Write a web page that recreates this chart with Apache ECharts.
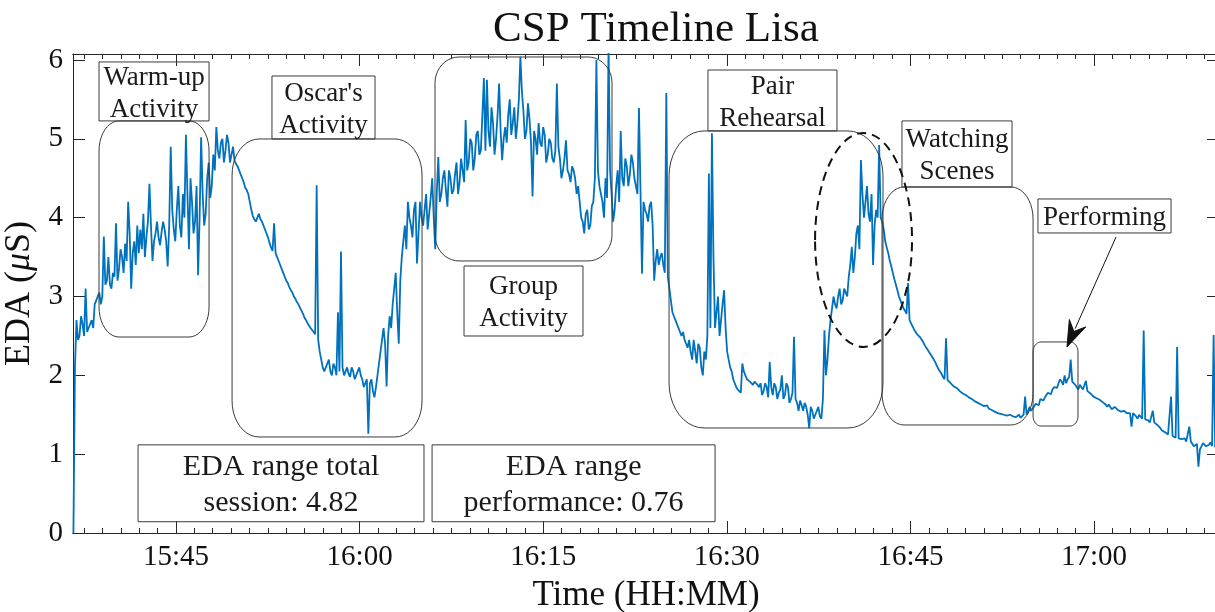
<!DOCTYPE html>
<html><head><meta charset="utf-8">
<script src="https://cdn.jsdelivr.net/npm/echarts@6/dist/echarts.min.js"></script>
<style>html,body{margin:0;padding:0;background:#fff}#c{width:1215px;height:612px}</style>
</head><body><div id="c"></div>
<script>
// ---- data (time in minutes after 15:00) ----
const tStart = 36.62;
const tStep = 0.1242;
const edaValues = [
 0,2.1, 2.7,2.45, 2.5,2.75, 2.65,2.5, 3.1,2.55, 2.6,2.65, 2.7,2.6, 2.9,2.95, 3.0,3.05, 2.9,3.0, 3.76,3.15, 3.2,3.5, 3.15,3.1, 3.3,3.25, 3.93,3.2, 3.35,3.6, 3.5,3.3, 3.67,3.45, 4.2,3.8, 3.1,3.55,
 3.7,3.4, 3.9,3.55, 3.85,3.6, 4.05,3.5, 3.75,3.95, 4.43,3.9, 3.45,3.7, 3.8,3.95, 3.75,3.65, 3.82,3.95, 3.85,3.7, 3.38,3.9, 4.9,4.1, 3.85,3.7, 4.1,4.4, 3.9,3.75, 4.3,4.0, 5.05,4.3, 3.6,4.5, 4.2,3.8,
 3.95,4.4, 3.27,4.0, 5.02,4.3, 3.9,4.05, 4.5,4.7, 4.25,4.4, 4.8,4.6, 5.15,4.85, 4.75,4.95, 5.0,4.7, 4.85,5.05, 4.95,4.7, 4.8,4.9, 4.72,4.68, 4.65,4.6, 4.55,4.5, 4.45,4.38, 4.35,4.3, 4.2,4.1, 4.02,3.98,
 3.95,4.0, 4.05,3.98, 3.95,3.9, 3.85,3.8, 3.75,3.68, 3.62,3.58, 3.93,3.55, 3.5,3.45, 3.4,3.35, 3.3,3.25, 3.2,3.17, 3.12,3.08, 3.05,3.0, 2.97,2.93, 2.9,2.86, 2.82,2.78, 2.73,2.7, 2.66,2.63, 2.6,2.58, 2.55,2.52,
 4.41,2.45, 2.3,2.2, 2.1,2.05, 2.05,2.15, 2.2,2.05, 2.0,2.15, 2.1,2.0, 2.8,2.05, 3.57,2.1, 2.0,2.05, 2.1,2.02, 1.98,2.1, 2.05,1.95, 2.0,2.05, 2.1,2.0, 1.95,1.85, 1.9,1.95, 1.26,1.9, 1.95,1.8, 1.72,1.85,
 2.0,2.15, 2.3,2.45, 2.6,2.4, 1.86,2.5, 2.75,2.6, 2.9,3.1, 3.3,2.8, 2.4,3.2, 3.5,3.7, 3.9,3.6, 4.2,4.0, 3.9,3.75, 4.1,4.2, 3.42,3.8, 4.2,4.0, 3.9,4.1, 4.3,3.85, 4.05,4.25, 4.5,4.0, 3.6,4.3,
 4.77,4.2, 4.3,4.5, 4.6,4.35, 4.14,4.6, 4.5,4.3, 4.35,4.55, 4.7,4.3, 4.45,4.75, 4.6,4.45, 5.24,4.6, 4.7,5.0, 4.95,4.6, 4.75,5.05, 5.1,4.8, 4.85,5.3, 5.77,4.85, 5.75,5.1, 4.9,5.4, 5.2,4.8, 5.0,5.3,
 5.7,5.1, 4.73,5.0, 5.15,4.95, 5.3,5.5, 5.05,5.2, 5.4,5.0, 5.2,5.5, 6.04,5.6, 5.35,5.0, 5.1,5.45, 5.25,4.95, 4.27,5.1, 5.0,4.8, 5.2,4.95, 4.9,5.15, 5.05,4.7, 4.8,5.0, 4.95,4.75, 4.7,4.85, 5.7,4.9,
 4.75,4.5, 4.6,4.75, 4.98,4.6, 4.55,4.45, 4.65,4.6, 4.5,4.3, 4.4,4.2, 4.0,3.95, 3.8,4.05, 4.1,3.85, 3.9,4.15, 4.2,4.5, 6.0,4.6, 4.4,4.3, 4.2,4.0, 4.5,4.25, 6.2,4.6, 4.3,3.95, 4.1,4.4, 4.6,4.2,
 5.1,4.5, 4.4,4.75, 4.65,4.4, 4.55,4.8, 4.7,4.5, 4.4,4.3, 5.39,4.35, 3.29,4.2, 4.1,4.05, 3.95,4.15, 4.2,3.9, 3.2,3.45, 3.6,3.4, 3.5,3.55, 3.4,3.3, 5.58,3.25, 3.1,2.95, 2.8,2.75, 2.7,2.65, 2.6,2.55,
 2.5,2.55, 2.45,2.4, 2.35,2.45, 2.3,2.2, 2.45,2.3, 2.15,2.4, 2.35,2.1, 2.0,2.3, 2.2,2.5, 4.56,2.6, 5.07,3.5, 2.6,2.8, 3.0,2.5, 2.7,2.9, 3.08,2.6, 2.3,2.2, 2.1,2.05, 1.95,1.9, 1.85,1.82, 1.8,1.78,
 2.15,2.05, 2.0,1.95, 1.95,1.92, 1.9,1.88, 1.92,1.9, 1.88,1.85, 1.9,1.75, 1.8,1.9, 1.85,1.72, 2.17,1.85, 1.75,1.9, 1.85,1.7, 1.78,1.82, 2.0,1.7, 1.75,1.9, 1.85,1.65, 1.7,1.78, 2.49,1.7, 1.65,1.55, 1.68,1.62,
 1.55,1.65, 1.6,1.5, 1.33,1.6, 1.55,1.45, 1.5,1.55, 1.6,1.48, 1.45,1.7, 2.57,2.0, 2.2,2.5, 2.7,2.85, 3.0,2.9, 2.85,3.0, 3.1,2.9, 2.95,3.1, 3.05,3.0, 3.25,3.4, 3.63,3.3, 3.5,3.8, 3.9,3.6, 4.73,4.3,
 4.0,4.2, 4.4,4.05, 3.95,4.3, 3.4,3.9, 4.1,4.0, 4.92,4.0, 3.95,3.85, 3.7,3.62, 3.55,3.45, 3.38,3.3, 3.22,3.15, 3.08,3.0, 2.95,2.9, 2.85,2.82, 2.78,3.17, 2.7,2.66, 2.62,2.58, 2.55,2.52, 2.5,2.48, 2.45,2.42,
 2.38,2.35, 2.32,2.29, 2.26,2.23, 2.2,2.16, 2.12,2.08, 2.05,2.02, 1.98,1.95, 2.47,1.94, 1.92,1.9, 1.88,1.86, 1.85,1.84, 1.82,1.8, 1.79,1.77, 1.76,1.75, 1.73,1.72, 1.71,1.7, 1.68,1.67, 1.66,1.65, 1.64,1.63, 1.62,1.61,
 1.6,1.62, 1.58,1.57, 1.56,1.55, 1.54,1.53, 1.52,1.53, 1.51,1.5, 1.5,1.52, 1.49,1.48, 1.5,1.5, 1.48,1.47, 1.47,1.49, 1.5,1.46, 1.48,1.5, 1.73,1.5, 1.52,1.6, 1.55,1.58, 1.6,1.64, 1.65,1.62, 1.7,1.72, 1.68,1.72,
 1.75,1.78, 1.8,1.76, 1.82,1.85, 1.86,1.84, 1.9,1.95, 1.92,1.88, 2.0,1.9, 1.95,1.98, 2.2,1.92, 1.9,1.88, 1.85,1.82, 1.88,1.85, 1.82,1.8, 1.93,1.8, 1.78,1.77, 1.75,1.73, 1.72,1.71, 1.7,1.69, 1.68,1.66, 1.65,1.63,
 1.6,1.63, 1.62,1.57, 1.58,1.6, 1.6,1.56, 1.55,1.54, 1.56,1.55, 1.53,1.52, 1.54,1.52, 1.35,1.52, 1.5,1.48, 1.45,1.5, 1.48,1.45, 2.57,1.44, 1.42,1.43, 1.4,1.42, 1.55,1.4, 1.38,1.37, 1.35,1.33, 1.3,1.29, 1.28,1.27,
 1.25,1.24, 1.73,1.23, 1.22,1.21, 2.36,1.2, 1.2,1.19, 1.18,1.2, 1.16,1.15, 1.35,1.16, 1.14,1.1, 1.12,1.13, 0.84,1.06, 1.1,1.14, 1.12,1.1, 1.08,1.12, 1.15,1.1, 2.51,1.1, 1.05
];
const xTickMinutes = [45, 60, 75, 90, 105, 120];
const yTickValues = [0, 1, 2, 3, 4, 5, 6];
const titleText = 'CSP Timeline Lisa';
const xAxisName = 'Time (HH:MM)';
const yAxisName = 'EDA ({i|μ}S)';

// annotations in data coordinates [t1, vTop, t2, vBottom]
const labelTexts = ['Warm-up\nActivity', "Oscar's\nActivity", 'Group\nActivity', 'Pair\nRehearsal',
  'Watching\nScenes', 'Performing', 'EDA range total\nsession: 4.82', 'EDA range\nperformance: 0.76'];
const labelBoxes = [[38.71, 5.975, 47.70, 5.227], [52.84, 5.797, 61.26, 4.998], [68.53, 3.387, 78.25, 2.499],
  [88.46, 5.873, 99.00, 5.100], [104.31, 5.227, 113.30, 4.389], [115.42, 4.237, 126.29, 3.806],
  [41.90, 1.118, 65.26, 0.143], [65.92, 1.118, 89.04, 0.143]];
const labelFontSizes = [27, 27, 27, 27, 27, 27, 30, 30];
const regionBoxes = [[38.71, 5.227, 47.70, 2.486], [49.58, 4.998, 65.10, 1.218], [66.16, 6.038, 80.62, 3.451],
  [85.28, 5.100, 102.76, 1.332], [102.68, 4.389, 115.02, 1.370], [115.02, 2.423, 118.69, 1.357]];
const regionCorners = [[20, 30], [27, 36], [24, 26], [35, 45], [22, 32], [8, 10]];
const ellipseCenter = [101.17, 3.717];
const ellipseRadius = [3.96, 1.357];
const arrowFrom = [121.80, 3.755];
const arrowTo = [117.79, 2.360];

// ---- chart ----
const FONT = '"Liberation Serif", "Times New Roman", serif';
const AX = '#262626';
const xMin = 36.585, xMax = 130.21, yMax = 6.076;
const minorTicks = [];
for (let m = 37.5; m < xMax; m += 1.5) minorTicks.push(m);

function fmt(m) {
  const h = 15 + Math.floor(m / 60);
  const mm = Math.round(m % 60);
  return h + ':' + String(mm).padStart(2, '0');
}
const seriesData = edaValues.map((v, i) => [tStart + i * tStep, v]);

function xAx(position, ticks, len, extra) {
  return Object.assign({
    type: 'value', position: position, min: xMin, max: xMax,
    axisLine: { show: true, onZero: false, lineStyle: { color: AX, width: 1 } },
    axisTick: { show: true, inside: true, length: len, customValues: ticks, lineStyle: { color: AX, width: 1 } },
    axisLabel: { show: false }, splitLine: { show: false }
  }, extra || {});
}

const chart = echarts.init(document.getElementById('c'), null, { renderer: 'canvas' });
const option = {
  animation: false,
  backgroundColor: '#ffffff',
  title: {
    text: titleText, left: 651, top: 3, textAlign: 'center',
    textStyle: { fontFamily: FONT, fontSize: 43, fontWeight: 'normal', color: '#111' }
  },
  grid: { left: 73, top: 54, width: 1146, height: 479, outerBoundsMode: 'none', containLabel: false },
  xAxis: [
    xAx('bottom', xTickMinutes, 12, {
      name: xAxisName, nameLocation: 'middle', nameGap: 45,
      nameTextStyle: { fontFamily: FONT, fontSize: 35, color: '#111' },
      axisLabel: { show: true, customValues: xTickMinutes, formatter: fmt, fontFamily: FONT, fontSize: 29, color: '#111', margin: 10 }
    }),
    xAx('bottom', minorTicks, 5),
    xAx('top', xTickMinutes, 12),
    xAx('top', minorTicks, 5)
  ],
  yAxis: [
    {
      type: 'value', position: 'left', min: 0, max: yMax,
      name: yAxisName, nameLocation: 'middle', nameGap: 31, nameRotate: 90,
      nameTextStyle: { fontFamily: FONT, fontSize: 36, color: '#111',
        rich: { i: { fontFamily: FONT, fontSize: 36, fontStyle: 'italic', color: '#111' } } },
      axisLine: { show: true, onZero: false, lineStyle: { color: AX, width: 1 } },
      axisTick: { show: true, inside: true, length: 12, customValues: yTickValues, lineStyle: { color: AX } },
      axisLabel: { customValues: yTickValues, fontFamily: FONT, fontSize: 29, color: '#111', margin: 10 },
      splitLine: { show: false }
    },
    {
      type: 'value', position: 'right', min: 0, max: yMax,
      axisLine: { show: true, onZero: false, lineStyle: { color: AX, width: 1 } },
      axisTick: { show: true, inside: true, length: 12, customValues: yTickValues, lineStyle: { color: AX } },
      axisLabel: { show: false }, splitLine: { show: false }
    }
  ],
  series: [{
    type: 'line', data: seriesData, xAxisIndex: 0, yAxisIndex: 0,
    showSymbol: false, symbol: 'none', clip: true, silent: true,
    lineStyle: { color: '#0072BD', width: 1.8 }
  }]
};
chart.setOption(option);

// ---- annotations placed through the axes ----
const P = (t, v) => chart.convertToPixel({ xAxisIndex: 0, yAxisIndex: 0 }, [t, v]);
const graphics = [];
const EDGE = '#3a3a3a';

function roundedPoints(x1, y1, x2, y2, rx, ry) {
  const pts = [];
  const n = 10;
  const corners = [
    [x2 - rx, y1 + ry, -Math.PI / 2, 0],
    [x2 - rx, y2 - ry, 0, Math.PI / 2],
    [x1 + rx, y2 - ry, Math.PI / 2, Math.PI],
    [x1 + rx, y1 + ry, Math.PI, 1.5 * Math.PI]
  ];
  corners.forEach(c => {
    for (let k = 0; k <= n; k++) {
      const a = c[2] + (c[3] - c[2]) * k / n;
      pts.push([c[0] + rx * Math.cos(a), c[1] + ry * Math.sin(a)]);
    }
  });
  return pts;
}

regionBoxes.forEach((b, i) => {
  const a = P(b[0], b[1]), c = P(b[2], b[3]);
  graphics.push({
    type: 'polygon', silent: true, z: 10,
    shape: { points: roundedPoints(a[0], a[1], c[0], c[1], regionCorners[i][0], regionCorners[i][1]) },
    style: { fill: 'none', stroke: EDGE, lineWidth: 1 }
  });
});

labelBoxes.forEach((b, i) => {
  const a = P(b[0], b[1]), c = P(b[2], b[3]);
  graphics.push({
    type: 'rect', silent: true, z: 11,
    shape: { x: a[0], y: a[1], width: c[0] - a[0], height: c[1] - a[1] },
    style: { fill: 'none', stroke: EDGE, lineWidth: 1 }
  });
  const fs = labelFontSizes[i];
  graphics.push({
    type: 'text', silent: true, z: 12,
    x: (a[0] + c[0]) / 2, y: (a[1] + c[1]) / 2 + 2,
    style: {
      text: labelTexts[i], fontFamily: FONT, fontSize: fs, fill: '#1a1a1a',
      align: 'center', verticalAlign: 'middle', textAlign: 'center', textVerticalAlign: 'middle',
      lineHeight: Math.round(fs * 1.2)
    }
  });
});

(function () {
  const c = P(ellipseCenter[0], ellipseCenter[1]);
  const e = P(ellipseCenter[0] + ellipseRadius[0], ellipseCenter[1] + ellipseRadius[1]);
  graphics.push({
    type: 'ellipse', silent: true, z: 12,
    shape: { cx: c[0], cy: c[1], rx: Math.abs(e[0] - c[0]), ry: Math.abs(c[1] - e[1]) },
    style: { fill: 'none', stroke: '#111', lineWidth: 2, lineDash: [9, 6] }
  });
  const f = P(arrowFrom[0], arrowFrom[1]), t = P(arrowTo[0], arrowTo[1]);
  const ang = Math.atan2(t[1] - f[1], t[0] - f[0]);
  const hl = 20, hw = 9;
  const bx = t[0] - hl * Math.cos(ang), by = t[1] - hl * Math.sin(ang);
  graphics.push({
    type: 'line', silent: true, z: 12,
    shape: { x1: f[0], y1: f[1], x2: bx, y2: by },
    style: { stroke: '#111', lineWidth: 1 }
  });
  const nx = -Math.sin(ang), ny = Math.cos(ang);
  const back = 0.3 * hl;
  graphics.push({
    type: 'polygon', silent: true, z: 12,
    shape: { points: [
      [t[0], t[1]],
      [bx + nx * hw - back * Math.cos(ang), by + ny * hw - back * Math.sin(ang)],
      [bx + 0.5 * back * Math.cos(ang), by + 0.5 * back * Math.sin(ang)],
      [bx - nx * hw - back * Math.cos(ang), by - ny * hw - back * Math.sin(ang)]
    ] },
    style: { fill: '#111', stroke: '#111', lineWidth: 1 }
  });
})();

chart.setOption({ graphic: graphics });
</script>
</body></html>
